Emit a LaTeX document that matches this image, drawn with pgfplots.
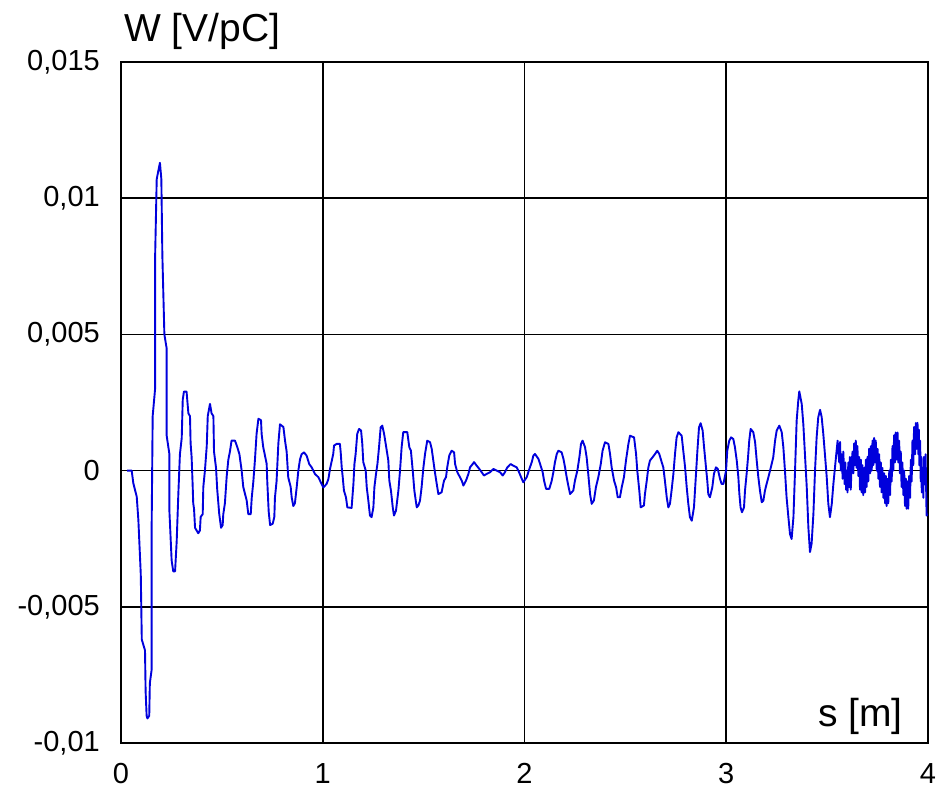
\documentclass[border=0pt]{standalone}
\usepackage{pgfplots}
\pgfplotsset{compat=1.18}
\usepackage{pgfplotstable}
\usepackage{fontspec}
\setmainfont{Liberation Sans}
\definecolor{wave}{RGB}{0,0,220}

% s in m, w in 10^-3 V/pC
\pgfplotstableread{
s w
0.030 0
0.053 0
0.061 -0.46
0.078 -0.96
0.086 -1.8
0.098 -3.8
0.103 -6.2
0.119 -6.6
0.122 -8.1
0.127 -9.0
0.131 -9.1
0.140 -9.0
0.143 -7.8
0.152 -7.3
0.152 -2.0
0.157 2.0
0.169 3.0
0.169 7.8
0.177 10.7
0.193 11.3
0.200 10.7
0.205 7.9
0.215 5.0
0.226 4.5
0.226 1.3
0.240 0.6
0.240 -1.5
0.251 -3.3
0.259 -3.7
0.268 -3.7
0.276 -2.6
0.284 -0.9
0.292 0.6
0.301 1.2
0.306 2.6
0.312 2.9
0.325 2.9
0.334 2.1
0.342 2.0
0.345 1.0
0.350 0.5
0.355 -0.5
0.358 -1.2
0.362 -1.4
0.367 -2.1
0.375 -2.2
0.383 -2.3
0.391 -2.2
0.395 -1.7
0.405 -1.6
0.408 -0.6
0.416 0.0
0.425 0.9
0.430 2.0
0.441 2.45
0.449 2.1
0.458 2.0
0.461 0.7
0.471 0.1
0.477 -0.7
0.487 -1.6
0.496 -2.1
0.504 -2.0
0.507 -1.6
0.515 -1.2
0.524 -0.2
0.532 0.4
0.540 0.7
0.548 1.1
0.565 1.1
0.577 0.85
0.587 0.6
0.598 0.0
0.606 -0.6
0.623 -1.1
0.631 -1.6
0.643 -1.6
0.648 -1.0
0.656 -0.4
0.664 0.4
0.672 1.35
0.681 1.9
0.694 1.85
0.697 1.35
0.705 0.86
0.722 0.25
0.725 -0.4
0.732 -1.5
0.739 -2.0
0.752 -1.95
0.760 -1.7
0.763 -1.0
0.771 -0.4
0.780 1.0
0.788 1.7
0.805 1.6
0.813 1.1
0.821 0.7
0.829 -0.25
0.841 -0.6
0.846 -0.98
0.854 -1.3
0.862 -1.2
0.871 -0.6
0.879 0.0
0.887 0.4
0.895 0.6
0.907 0.67
0.920 0.55
0.933 0.24
0.945 0.12
0.961 -0.12
0.978 -0.24
0.995 -0.5
1.003 -0.62
1.019 -0.49
1.028 -0.31
1.036 0.06
1.052 0.61
1.056 0.92
1.069 0.98
1.085 0.98
1.089 0.67
1.094 0.12
1.099 -0.24
1.105 -0.73
1.115 -0.98
1.122 -1.35
1.143 -1.37
1.147 -0.98
1.152 -0.49
1.157 0.24
1.163 0.61
1.171 1.35
1.180 1.53
1.190 1.47
1.196 0.98
1.201 0.31
1.213 0.0
1.218 -0.61
1.226 -1.1
1.234 -1.65
1.242 -1.71
1.251 -1.35
1.256 -0.61
1.264 -0.12
1.271 0.24
1.279 0.86
1.287 1.59
1.295 1.65
1.304 1.35
1.312 0.98
1.325 0.37
1.330 -0.37
1.338 -0.73
1.347 -1.35
1.353 -1.65
1.363 -1.47
1.375 -0.73
1.383 0.0
1.391 0.86
1.399 1.41
1.419 1.41
1.429 0.86
1.437 0.73
1.446 0.0
1.454 -0.73
1.461 -1.1
1.466 -1.35
1.474 -1.28
1.482 -1.1
1.490 -0.61
1.499 0.12
1.507 0.61
1.518 1.1
1.532 1.04
1.540 0.80
1.548 0.37
1.556 -0.06
1.565 -0.49
1.573 -0.86
1.589 -0.80
1.601 -0.37
1.611 -0.24
1.617 0.12
1.627 0.55
1.639 0.73
1.651 0.67
1.656 0.24
1.667 -0.06
1.680 -0.24
1.689 -0.37
1.697 -0.55
1.710 -0.37
1.722 -0.12
1.730 0.12
1.743 0.24
1.750 0.31
1.763 0.18
1.776 0.06
1.788 -0.06
1.799 -0.18
1.813 -0.12
1.829 -0.06
1.846 0.06
1.862 0.0
1.879 -0.06
1.892 -0.18
1.903 -0.06
1.915 0.12
1.931 0.24
1.945 0.18
1.961 0.12
1.973 -0.06
1.983 -0.24
1.994 -0.43
2.011 -0.24
2.019 -0.06
2.027 0.12
2.036 0.31
2.044 0.55
2.052 0.61
2.069 0.43
2.080 0.18
2.090 -0.06
2.097 -0.37
2.107 -0.67
2.123 -0.67
2.135 -0.37
2.143 -0.06
2.151 0.31
2.160 0.61
2.168 0.73
2.184 0.67
2.193 0.43
2.201 0.12
2.209 -0.24
2.217 -0.55
2.226 -0.86
2.242 -0.73
2.250 -0.37
2.262 0.0
2.272 0.49
2.280 0.98
2.288 1.1
2.300 0.86
2.308 0.49
2.316 -0.12
2.325 -0.86
2.333 -1.22
2.344 -1.1
2.354 -0.61
2.366 -0.24
2.378 0.24
2.387 0.73
2.399 1.04
2.416 0.98
2.424 0.61
2.432 0.12
2.444 -0.37
2.454 -0.61
2.462 -0.98
2.473 -0.98
2.482 -0.61
2.493 -0.24
2.503 0.37
2.515 0.98
2.523 1.28
2.543 1.22
2.553 0.61
2.559 0.0
2.569 -0.73
2.576 -1.35
2.592 -1.28
2.597 -0.86
2.606 -0.37
2.614 0.12
2.622 0.37
2.635 0.49
2.647 0.61
2.658 0.73
2.668 0.61
2.680 0.31
2.688 0.12
2.696 -0.37
2.705 -0.98
2.713 -1.35
2.721 -1.22
2.729 -0.73
2.738 -0.12
2.746 0.61
2.754 1.22
2.763 1.41
2.779 1.28
2.787 0.73
2.796 0.12
2.804 -0.61
2.812 -1.22
2.820 -1.71
2.829 -1.84
2.840 -1.35
2.848 -0.37
2.857 0.73
2.865 1.59
2.873 1.74
2.883 1.47
2.890 0.86
2.898 0.24
2.906 -0.37
2.911 -0.86
2.919 -0.98
2.931 -0.61
2.939 -0.12
2.949 0.12
2.958 0.06
2.969 -0.30
2.977 -0.49
2.986 -0.49
2.999 0.0
3.005 0.73
3.015 1.1
3.024 1.22
3.035 1.16
3.043 0.86
3.052 0.37
3.060 -0.24
3.065 -0.86
3.071 -1.35
3.078 -1.53
3.088 -1.35
3.093 -0.73
3.101 -0.12
3.108 0.49
3.114 1.1
3.121 1.53
3.134 1.41
3.143 1.04
3.151 0.37
3.159 -0.24
3.167 -0.73
3.176 -1.16
3.184 -1.1
3.192 -0.73
3.200 -0.49
3.209 -0.24
3.217 0.0
3.225 0.24
3.233 0.49
3.242 1.1
3.250 1.47
3.263 1.65
3.275 1.41
3.283 0.86
3.291 0.0
3.299 -0.98
3.308 -1.71
3.316 -2.33
3.324 -2.51
3.333 -1.71
3.341 0.0
3.349 1.84
3.357 2.57
3.362 2.91
3.374 2.45
3.382 1.71
3.390 0.61
3.399 -0.61
3.407 -2.08
3.415 -2.99
3.423 -2.69
3.432 -1.59
3.440 0.0
3.448 1.22
3.456 1.96
3.465 2.23
3.473 1.96
3.481 1.35
3.489 0.61
3.498 -0.24
3.506 -1.22
3.514 -1.71
3.523 -1.22
3.531 -0.49
3.539 0.12
3.547 0.73
3.552 1.1
3.556 0.7
3.560 0.3
3.564 1.05
3.568 0.0
3.572 0.6
3.577 -0.3
3.580 0.7
3.584 0.0
3.587 -0.5
3.590 0.3
3.594 -0.7
3.597 0.0
3.601 -0.8
3.605 0.3
3.609 -0.6
3.613 0.5
3.617 -0.7
3.622 0.3
3.626 0.7
3.630 -0.1
3.634 1.0
3.638 0.2
3.642 1.1
3.646 0.1
3.650 0.9
3.655 -0.2
3.659 0.5
3.663 -0.7
3.667 0.4
3.671 -0.8
3.675 0.2
3.679 -0.9
3.684 0.1
3.688 -0.8
3.692 0.4
3.696 -0.6
3.700 0.5
3.704 -0.4
3.708 0.8
3.713 -0.1
3.717 0.9
3.721 0.0
3.725 1.1
3.729 0.2
3.733 1.2
3.737 0.3
3.741 1.1
3.746 0.0
3.750 0.8
3.754 -0.3
3.758 0.6
3.762 -0.6
3.766 0.3
3.770 -0.8
3.774 0.1
3.779 -1.0
3.783 -0.1
3.787 -1.2
3.791 -0.2
3.795 -1.3
3.799 -0.3
3.803 -1.2
3.808 0.0
3.812 -0.9
3.816 0.4
3.820 -0.4
3.824 0.9
3.828 0.0
3.832 1.3
3.836 0.3
3.840 1.4
3.845 0.4
3.849 1.4
3.853 0.3
3.857 1.1
3.861 -0.1
3.865 0.7
3.869 -0.6
3.873 0.3
3.878 -0.9
3.882 0.0
3.886 -1.3
3.890 -0.3
3.894 -1.4
3.898 -0.4
3.902 -1.4
3.906 -0.2
3.911 -1.0
3.915 0.4
3.919 -0.4
3.923 1.1
3.927 0.2
3.931 1.6
3.936 0.6
3.940 1.75
3.944 0.8
3.948 1.75
3.952 0.6
3.955 1.5
3.957 0.2
3.961 1.1
3.964 -0.4
3.967 0.5
3.969 -0.8
3.973 0.1
3.977 -1.0
3.980 0.5
3.984 -0.5
3.988 0.6
3.993 -1.65
3.998 -1.6
}\wakedata

\begin{document}
\begin{tikzpicture}[x=1pt,y=1pt]
\path[use as bounding box] (-121,-54) rectangle (818,743);
\begin{axis}[
  name=ax,
  at={(0,0)}, anchor=south west,
  scale only axis, width=807pt, height=681pt,
  xmin=0, xmax=4, ymin=-0.01, ymax=0.015,
  xtick={0,1,2,3,4},
  xticklabels={0,1,2,3,4},
  ytick={-0.01,-0.005,0,0.005,0.01,0.015},
  yticklabels={{-0,01},{-0,005},{0},{0,005},{0,01},{0,015}},
  scaled y ticks=false, scaled x ticks=false,
  grid=major,
  major grid style={black, line width=1.6pt},
  axis line style={black, line width=2.2pt},
  major tick length=0pt,
  tick label style={font=\fontsize{29}{32}\selectfont, inner sep=0pt},
  xticklabel style={yshift=-20pt},
  yticklabel style={xshift=-21pt},
  clip=true,
]
\addplot[wave, line width=1.9pt, sharp plot, no markers, line join=round]
  table[x=s, y expr=\thisrow{w}*0.001] {\wakedata};
\end{axis}
\node[anchor=base west, inner sep=0pt, font=\fontsize{39}{44}\selectfont] at (3,701) {W [V/pC]};
\node[anchor=base east, inner sep=0pt, font=\fontsize{39}{44}\selectfont] at (782,16) {s [m]};
\end{tikzpicture}
\end{document}
